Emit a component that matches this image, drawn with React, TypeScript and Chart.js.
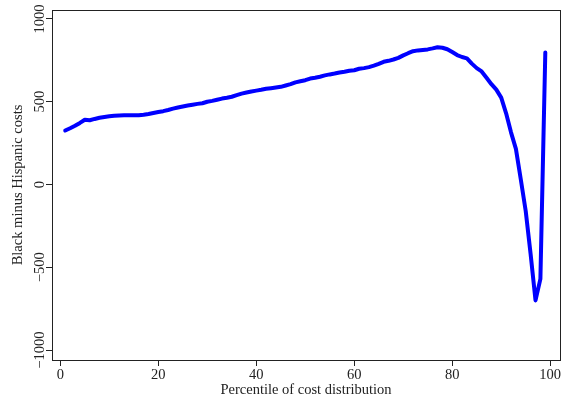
import React, { useEffect, useRef } from "react";
import { Chart, registerables } from "chart.js";

Chart.register(...registerables);

const percentiles = [
  1, 2, 3, 4, 5, 6, 7, 8, 9, 10, 11, 12, 13, 14, 15, 16, 17, 18, 19, 20,
  21, 22, 23, 24, 25, 26, 27, 28, 29, 30, 31, 32, 33, 34, 35, 36, 37, 38, 39, 40,
  41, 42, 43, 44, 45, 46, 47, 48, 49, 50, 51, 52, 53, 54, 55, 56, 57, 58, 59, 60,
  61, 62, 63, 64, 65, 66, 67, 68, 69, 70, 71, 72, 73, 74, 75, 76, 77, 78, 79, 80,
  81, 82, 83, 84, 85, 86, 87, 88, 89, 90, 91, 92, 93, 94, 95, 96, 97, 98, 99,
];

const blackMinusHispanic = [
  326, 340, 355, 372, 391, 388, 396, 403, 408, 412,
  415, 417, 418, 418, 418, 418, 421, 426, 432, 438,
  443, 450, 458, 465, 471, 477, 482, 487, 491, 500,
  505, 512, 519, 524, 530, 540, 549, 556, 562, 567,
  572, 578, 582, 586, 590, 598, 606, 617, 624, 630,
  640, 645, 651, 659, 665, 670, 676, 681, 687, 690,
  699, 703, 709, 718, 729, 741, 747, 755, 765, 780,
  793, 805, 810, 813, 816, 822, 829, 826, 817, 800,
  782, 770, 762, 730, 703, 683, 645, 606, 573, 525,
  430, 315, 215, 30, -160, -420, -700, -570, 797,
];

const xTicks = [0, 20, 40, 60, 80, 100];
const yTicks = [-1000, -500, 0, 500, 1000];
const xTitle = "Percentile of cost distribution";
const yTitle = "Black minus Hispanic costs";

const FONT = '14.5px "Liberation Serif", "DejaVu Serif", serif';
const INK = "#222222";

const framePlugin = {
  id: "frameAndText",
  afterDraw(chart: any) {
    const { ctx, chartArea } = chart;
    const xs = chart.scales.x;
    const ys = chart.scales.y;
    ctx.save();
    ctx.strokeStyle = INK;
    ctx.lineWidth = 1;
    ctx.strokeRect(
      Math.round(chartArea.left) + 0.5,
      Math.round(chartArea.top) + 0.5,
      Math.round(chartArea.right - chartArea.left),
      Math.round(chartArea.bottom - chartArea.top)
    );
    ctx.fillStyle = INK;
    ctx.font = FONT;
    ctx.textAlign = "center";
    ctx.textBaseline = "middle";
    xTicks.forEach((v) => {
      ctx.fillText(String(v), xs.getPixelForValue(v), chartArea.bottom + 15);
    });
    ctx.fillText(xTitle, (chartArea.left + chartArea.right) / 2, chartArea.bottom + 30);
    yTicks.forEach((v) => {
      const y = ys.getPixelForValue(v);
      ctx.save();
      ctx.translate(chartArea.left - 12, y);
      ctx.rotate(-Math.PI / 2);
      ctx.fillText(v < 0 ? "\u2212" + String(-v) : String(v), 0, 0);
      ctx.restore();
    });
    ctx.save();
    ctx.translate(18, (chartArea.top + chartArea.bottom) / 2);
    ctx.rotate(-Math.PI / 2);
    ctx.fillText(yTitle, 0, 0);
    ctx.restore();
    ctx.restore();
  },
};

export default function App() {
  const canvasRef = useRef<HTMLCanvasElement | null>(null);

  useEffect(() => {
    if (!canvasRef.current) return;
    const points = percentiles.map((p, i) => ({ x: p, y: blackMinusHispanic[i] }));
    const chart = new Chart(canvasRef.current, {
      type: "line",
      data: {
        datasets: [
          {
            data: points,
            borderColor: "#0000ff",
            borderWidth: 4,
            pointRadius: 0,
            tension: 0,
            fill: false,
            borderJoinStyle: "round",
            borderCapStyle: "round",
          },
        ],
      },
      options: {
        responsive: false,
        animation: false,
        devicePixelRatio: 1,
        layout: { padding: { top: 10, right: 3, left: 0, bottom: 0 } },
        plugins: { legend: { display: false }, tooltip: { enabled: false } },
        scales: {
          x: {
            type: "linear",
            min: -1.7,
            max: 102,
            afterBuildTicks: (scale: any) => {
              scale.ticks = xTicks.map((v) => ({ value: v }));
            },
            afterFit: (scale: any) => {
              scale.height = 40;
            },
            ticks: { display: false },
            border: { display: false },
            grid: {
              drawOnChartArea: false,
              drawTicks: true,
              tickLength: 6,
              color: INK,
            },
          },
          y: {
            type: "linear",
            min: -1060,
            max: 1054,
            afterBuildTicks: (scale: any) => {
              scale.ticks = yTicks.map((v) => ({ value: v }));
            },
            afterFit: (scale: any) => {
              scale.width = 52;
            },
            ticks: { display: false },
            border: { display: false },
            grid: {
              drawOnChartArea: false,
              drawTicks: true,
              tickLength: 6,
              color: INK,
            },
          },
        },
      },
      plugins: [framePlugin],
    });
    return () => chart.destroy();
  }, []);

  return (
    <div style={{ position: "absolute", left: 0, top: 0, width: 563, height: 400, background: "#fff" }}>
      <canvas ref={canvasRef} width={563} height={400} />
    </div>
  );
}
